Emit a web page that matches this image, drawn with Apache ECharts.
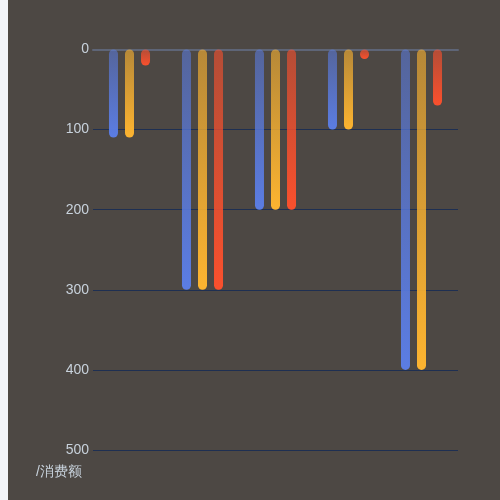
<!DOCTYPE html>
<html>
<head>
<meta charset="utf-8">
<script src="https://cdn.jsdelivr.net/npm/echarts@6/dist/echarts.min.js"></script>
<style>
html,body{margin:0;padding:0;width:500px;height:500px;overflow:hidden;background:#f2f4f8;}
#c{position:absolute;left:8px;top:0;width:500px;height:500px;background:#4d4844;}
</style>
</head>
<body>
<div id="c"></div>
<script>
var categories = ['A', 'B', 'C', 'D', 'E'];
var blueValues = [110, 300, 200, 100, 400];
var orangeValues = [110, 300, 200, 100, 400];
var redValues = [20, 300, 200, 12, 70];
var yTicks = [0, 100, 200, 300, 400, 500];

function grad(top, bottom) {
  return new echarts.graphic.LinearGradient(0, 0, 0, 1, [
    {offset: 0, color: top},
    {offset: 1, color: bottom}
  ]);
}
function makeSeries(name, data, top, bottom) {
  return {
    name: name,
    type: 'bar',
    data: data,
    barWidth: 9,
    barGap: '78%',
    itemStyle: {borderRadius: 4.5, color: grad(top, bottom)}
  };
}
var chart = echarts.init(document.getElementById('c'));
chart.setOption({
  backgroundColor: '#4d4844',
  animation: false,
  grid: {left: 85, right: 50, top: 49.5, bottom: 50},
  xAxis: {
    type: 'category',
    data: categories,
    axisLine: {show: true, lineStyle: {color: '#5e6577', width: 2}},
    axisTick: {show: false},
    axisLabel: {show: false},
    splitLine: {show: false}
  },
  yAxis: {
    type: 'value',
    inverse: true,
    min: yTicks[0],
    max: yTicks[yTicks.length - 1],
    interval: 100,
    name: '/消费额',
    nameLocation: 'end',
    nameGap: 15,
    nameTextStyle: {color: '#c8d2dc', fontSize: 14, align: 'right', padding: [0, 11, 0, 0]},
    axisLine: {show: false},
    axisTick: {show: false},
    axisLabel: {color: '#c8d2dc', fontSize: 14, margin: 4},
    splitLine: {lineStyle: {color: '#1e2f52', width: 1}}
  },
  series: [
    makeSeries('s1', blueValues, 'rgba(91,125,228,0.55)', 'rgba(91,125,228,1)'),
    makeSeries('s2', orangeValues, 'rgba(253,180,48,0.6)', 'rgba(253,180,48,1)'),
    makeSeries('s3', redValues, 'rgba(250,80,45,0.6)', 'rgba(250,80,45,1)')
  ]
});
</script>
</body>
</html>
